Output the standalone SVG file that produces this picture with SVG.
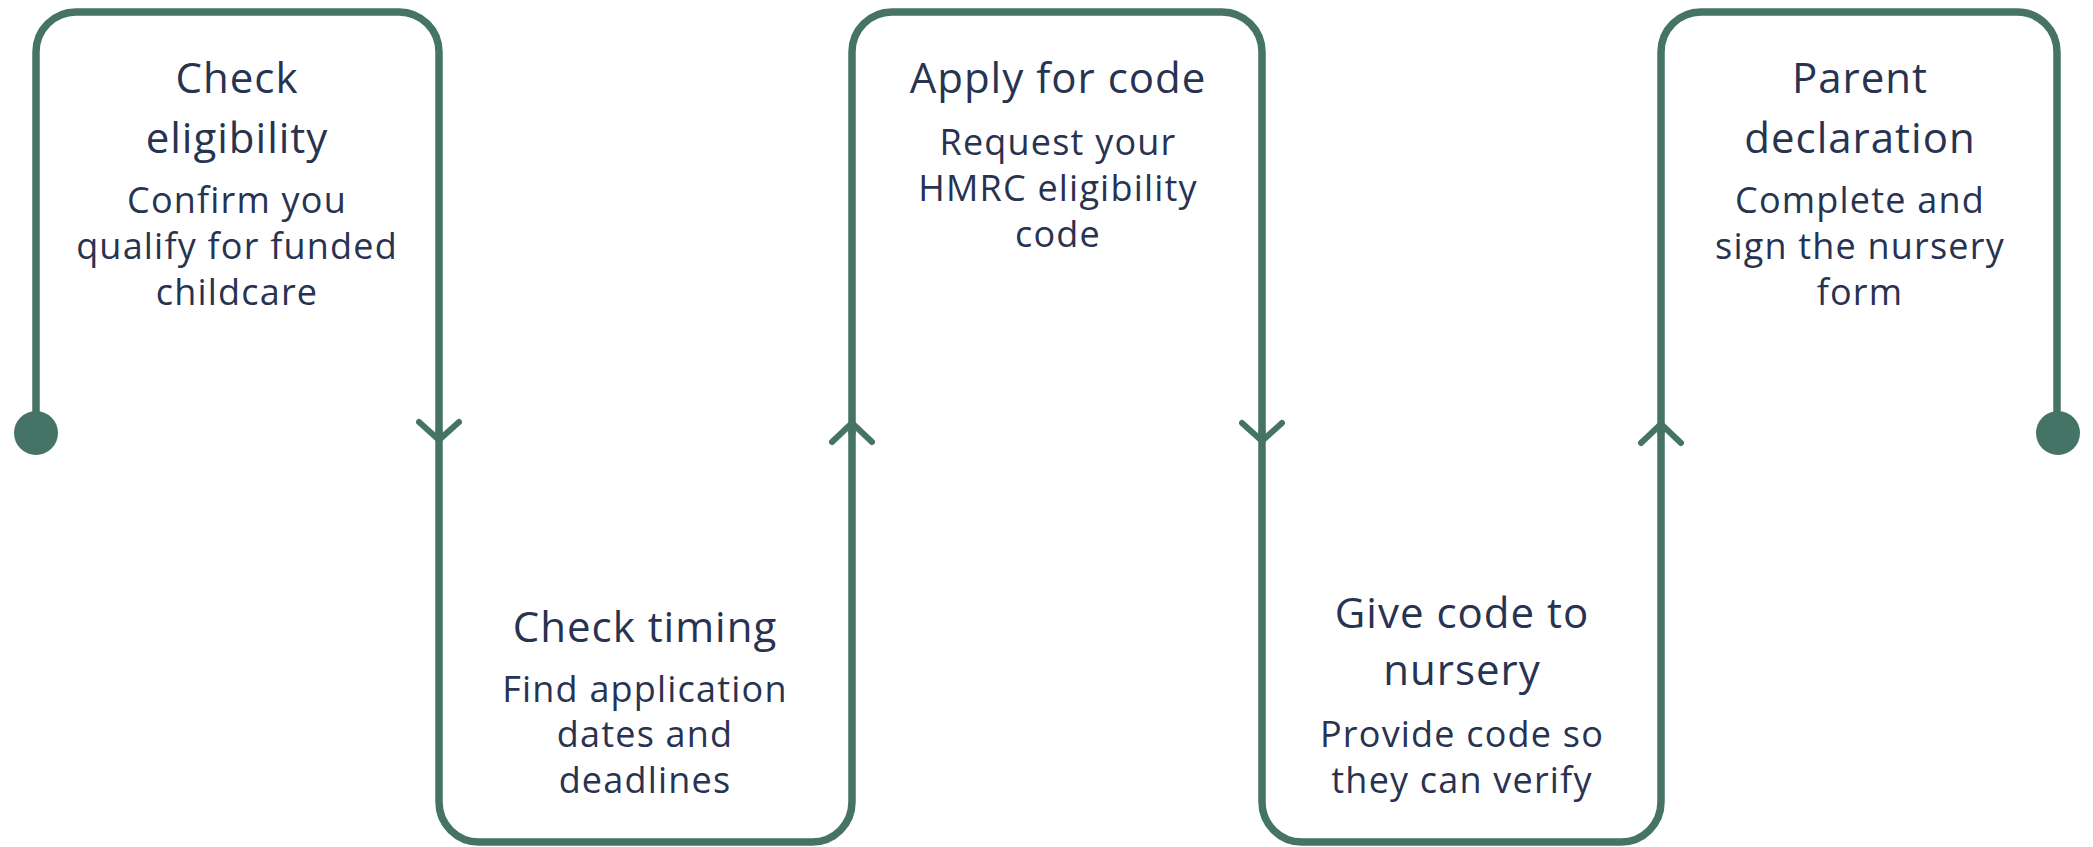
<svg xmlns="http://www.w3.org/2000/svg" width="2093" height="847" viewBox="0 0 2093 847">
<style>
.edge{fill:none;stroke:#457366;stroke-width:7.5;stroke-linecap:round;stroke-linejoin:round}
.chev{fill:none;stroke:#457366;stroke-width:6;stroke-linecap:round;stroke-linejoin:round}
.dot{fill:#457366}
.t{font-family:"Open Sans",sans-serif;font-size:42px;letter-spacing:1px;fill:#283251;text-anchor:middle}
.s{font-family:"Open Sans",sans-serif;font-size:36px;letter-spacing:1.2px;fill:#283251;text-anchor:middle}
</style>
<rect width="2093" height="847" fill="#ffffff"/>
<g id="node1">
<path class="edge" d="M36,433 V52 A40,40 0 0 1 76,12 H399 A40,40 0 0 1 439,52 V432"/>
<text class="t" x="237" y="93">Check</text>
<text class="t" x="237" y="153">eligibility</text>
<text class="s" x="237" y="213">Confirm you</text>
<text class="s" x="237" y="259">qualify for funded</text>
<text class="s" x="237" y="305">childcare</text>
</g>
<g id="node2">
<path class="edge" d="M439,432 V802 A40,40 0 0 0 479,842 H812 A40,40 0 0 0 852,802 V432"/>
<text class="t" x="645" y="642">Check timing</text>
<text class="s" x="645" y="702">Find application</text>
<text class="s" x="645" y="747">dates and</text>
<text class="s" x="645" y="793">deadlines</text>
</g>
<g id="node3">
<path class="edge" d="M852,432 V52 A40,40 0 0 1 892,12 H1222 A40,40 0 0 1 1262,52 V432"/>
<text class="t" x="1058" y="93">Apply for code</text>
<text class="s" x="1058" y="155">Request your</text>
<text class="s" x="1058" y="201">HMRC eligibility</text>
<text class="s" x="1058" y="247">code</text>
</g>
<g id="node4">
<path class="edge" d="M1262,432 V802 A40,40 0 0 0 1302,842 H1621 A40,40 0 0 0 1661,802 V432"/>
<text class="t" x="1462" y="628">Give code to</text>
<text class="t" x="1462" y="685">nursery</text>
<text class="s" x="1462" y="747">Provide code so</text>
<text class="s" x="1462" y="793">they can verify</text>
</g>
<g id="node5">
<path class="edge" d="M1661,432 V52 A40,40 0 0 1 1701,12 H2017 A40,40 0 0 1 2057,52 V433"/>
<text class="t" x="1860" y="93">Parent</text>
<text class="t" x="1860" y="153">declaration</text>
<text class="s" x="1860" y="213">Complete and</text>
<text class="s" x="1860" y="259">sign the nursery</text>
<text class="s" x="1860" y="305">form</text>
</g>
<g id="connectors">
<circle class="dot" cx="36" cy="433" r="22"/>
<path class="chev" d="M419,422 L439,440 L459,422"/>
<path class="chev" d="M832,442 L852,423 L872,442"/>
<path class="chev" d="M1242,423 L1262,441 L1282,423"/>
<path class="chev" d="M1641,443 L1661,424 L1681,443"/>
<circle class="dot" cx="2058" cy="433" r="22"/>
</g>
</svg>
